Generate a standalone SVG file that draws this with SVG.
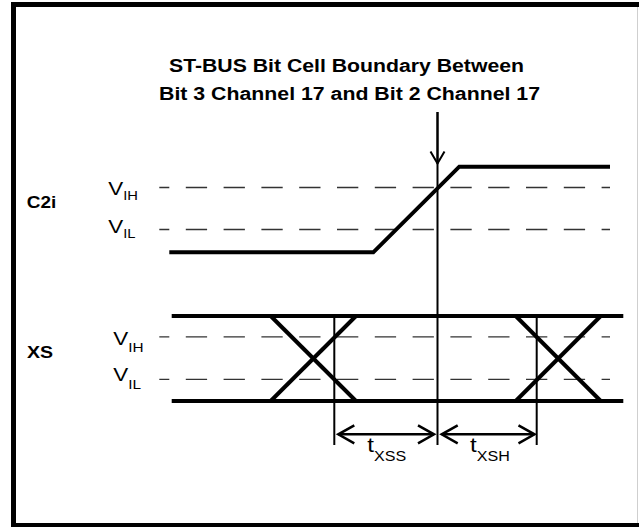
<svg xmlns="http://www.w3.org/2000/svg" width="639" height="527" viewBox="0 0 639 527">
<defs>
<style>
.frame{stroke:#000;stroke-width:5;fill:none}
.wave{stroke:#000;stroke-width:4;fill:none;stroke-linejoin:miter;stroke-linecap:butt}
.thin{stroke:#000;stroke-width:2;fill:none}
.dash{stroke:#333;stroke-width:1.3;fill:none;stroke-dasharray:21.3 16.5;stroke-dashoffset:11.3}
.dim{stroke:#000;stroke-width:2.5;fill:none}
.title{font-family:"Liberation Sans",Arial,sans-serif;font-weight:bold;font-size:18px;fill:#000}
.sig{font-family:"Liberation Sans",Arial,sans-serif;font-weight:bold;fill:#000}
.lbl{font-family:"Liberation Sans",Arial,sans-serif;fill:#000}
</style>
<marker id="dimhead" markerUnits="userSpaceOnUse" viewBox="-20 -12 24 24" refX="0" refY="0" markerWidth="24" markerHeight="24" orient="auto-start-reverse">
<path d="M-16,-9 L0,0 L-16,9" fill="none" stroke="#000" stroke-width="2.5"/>
</marker>
<marker id="downhead" markerUnits="userSpaceOnUse" viewBox="-16 -10 20 20" refX="0" refY="0" markerWidth="20" markerHeight="20" orient="auto">
<path d="M-12,-7 L0,0 L-12,7" fill="none" stroke="#000" stroke-width="2"/>
</marker>
</defs>
<rect x="0" y="0" width="639" height="527" fill="#fff"/>
<g id="frame">
<path class="frame" d="M13.5,527 V4.5 H639"/>
<path class="frame" d="M11,525.5 H639"/>
<line x1="637.5" y1="7" x2="637.5" y2="523" stroke="#cfcfcf" stroke-width="1"/>
</g>
<g id="title">
<text class="title" x="169" y="72" textLength="355" lengthAdjust="spacingAndGlyphs">ST-BUS Bit Cell Boundary Between</text>
<text class="title" x="159" y="100" textLength="381" lengthAdjust="spacingAndGlyphs">Bit 3 Channel 17 and Bit 2 Channel 17</text>
</g>
<g id="c2i">
<text class="sig" font-size="16.5" transform="translate(26.7,208) scale(1.15,1)">C2i</text>
<text class="lbl" font-size="19" transform="translate(108.3,195) scale(1.18,1)">V<tspan font-size="12.5" dy="4.5">IH</tspan></text>
<text class="lbl" font-size="19" transform="translate(108.3,233.3) scale(1.18,1)">V<tspan font-size="12.5" dy="5">IL</tspan></text>
<line class="dash" x1="159.3" y1="187.5" x2="610" y2="187.5"/>
<line class="dash" x1="159.3" y1="229.5" x2="610" y2="229.5"/>
<polyline class="wave" points="169.3,252.3 373.3,252.3 459.3,166.7 610,166.7"/>
</g>
<g id="xs">
<text class="sig" font-size="17" transform="translate(27,357.5) scale(1.15,1)">XS</text>
<text class="lbl" font-size="19" transform="translate(113.3,345) scale(1.18,1)">V<tspan font-size="13" dy="7">IH</tspan></text>
<text class="lbl" font-size="19" transform="translate(113.3,380.5) scale(1.18,1)">V<tspan font-size="13" dy="8">IL</tspan></text>
<line class="dash" x1="159.3" y1="336.8" x2="610" y2="336.8"/>
<line class="dash" x1="159.3" y1="379.3" x2="610" y2="379.3"/>
<line class="wave" x1="171.7" y1="316" x2="623.3" y2="316"/>
<line class="wave" x1="171.7" y1="401" x2="623.3" y2="401"/>
<line class="wave" x1="270.7" y1="316" x2="356" y2="401"/>
<line class="wave" x1="270.7" y1="401" x2="356" y2="316"/>
<line class="wave" x1="515.7" y1="316" x2="600.7" y2="401"/>
<line class="wave" x1="515.7" y1="401" x2="600.7" y2="316"/>
</g>
<g id="connectors">
<line class="thin" x1="437.5" y1="112" x2="437.5" y2="445"/>
<line class="thin" x1="437.5" y1="112" x2="437.5" y2="163.5" marker-end="url(#downhead)"/>
<line class="thin" x1="334.3" y1="316" x2="334.3" y2="445"/>
<line class="thin" x1="536.7" y1="316" x2="536.7" y2="445"/>
<line class="dim" x1="338.3" y1="434.3" x2="434" y2="434.3" marker-start="url(#dimhead)" marker-end="url(#dimhead)"/>
<line class="dim" x1="441.7" y1="434.3" x2="534.5" y2="434.3" marker-start="url(#dimhead)" marker-end="url(#dimhead)"/>
</g>
<g id="timing-labels">
<text class="lbl" font-size="21" transform="translate(367.3,452) scale(1.15,1)">t<tspan font-size="14" dy="9">XSS</tspan></text>
<text class="lbl" font-size="21" transform="translate(470,452) scale(1.15,1)">t<tspan font-size="14" dy="9">XSH</tspan></text>
</g>
</svg>
